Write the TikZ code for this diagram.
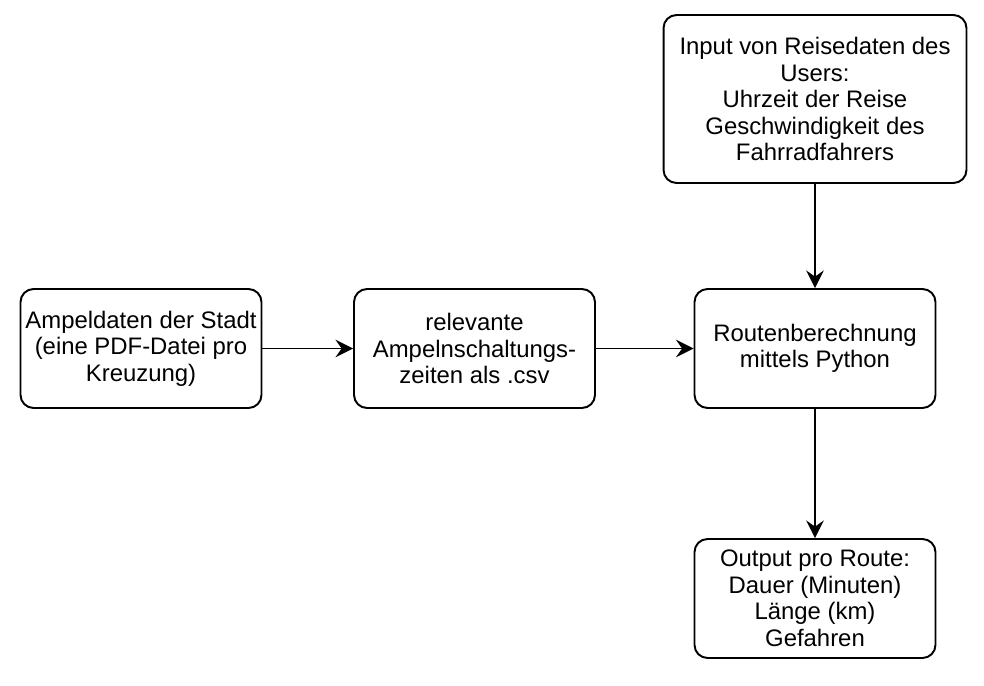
\documentclass[tikz,border=0pt]{standalone}
\usepackage{fontspec}
\setmainfont{Liberation Sans}
\usetikzlibrary{arrows.meta}

\begin{document}
\begin{tikzpicture}[x=0.02cm, y=-0.02cm, line join=round, line cap=round,
		kasten/.style={draw, line width=1.1pt, rounded corners=0.26cm, align=center,
			minimum width=4.82cm, minimum height=2.38cm, inner sep=2pt,
			font=\fontsize{13.6}{15.1}\selectfont},
		pfeil/.style={line width=1.1pt, -{Stealth[length=10pt, width=10pt, inset=3.5pt]}}]
	\useasboundingbox (0,0) rectangle (984,686);
	
	% Datenquellen
	\node[kasten] (ampel) at (141,348.5) {Ampeldaten der Stadt\\(eine PDF-Datei pro\\Kreuzung)};
	\node[kasten] (csv) at (474.5,348.5) {relevante\\Ampelnschaltungs-\\zeiten als .csv};
	\node[kasten, minimum width=6.06cm, minimum height=3.36cm] (input) at (815,99) {Input von Reisedaten des\\Users:\\Uhrzeit der Reise\\Geschwindigkeit des\\Fahrradfahrers};
	
	% Berechnung und Ergebnis
	\node[kasten] (routen) at (815,348.5) {Routenberechnung\\mittels Python};
	\node[kasten] (output) at (815,598.5) {Output pro Route:\\Dauer (Minuten)\\Länge (km)\\Gefahren};
	
	% Verbindungen
	\draw[pfeil] (ampel) -- (csv);
	\draw[pfeil] (csv) -- (routen);
	\draw[pfeil] (input) -- (routen);
	\draw[pfeil] (routen) -- (output);
\end{tikzpicture}
\end{document}
